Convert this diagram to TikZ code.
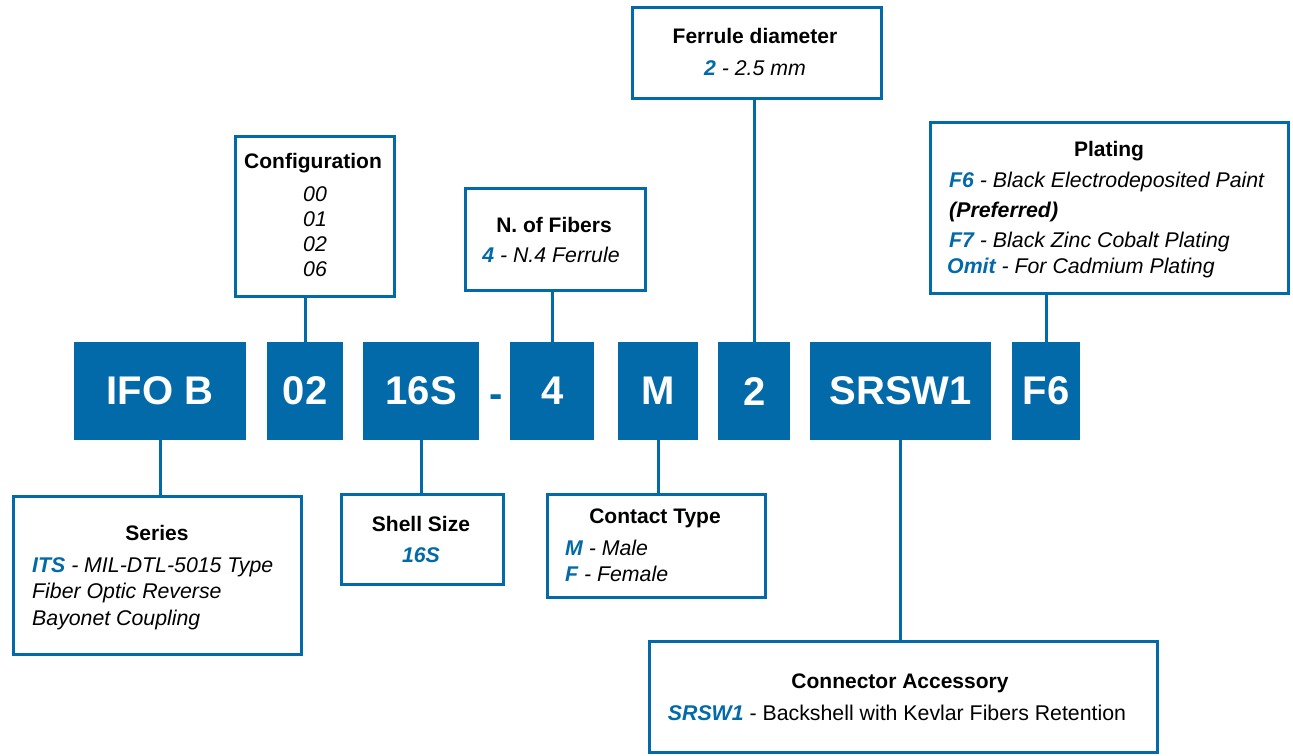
\documentclass[tikz,border=0pt]{standalone}
\usepackage{fontspec}
\setmainfont{Liberation Sans}
\definecolor{brand}{RGB}{3,106,170}
\newcommand\codetxt[1]{\textcolor{brand}{\bfseries\itshape #1}}
\begin{document}
\begin{tikzpicture}[x=1pt,y=-1pt,
  code/.style={fill=brand,text=white,font=\fontsize{40}{48}\selectfont\bfseries,inner sep=0,anchor=north west,minimum height=98},
  lbl/.style={draw=brand,line width=3pt,fill=white,inner sep=0,anchor=north west},
  conn/.style={draw=brand,line width=3pt},
  head/.style={font=\fontsize{21}{25}\selectfont\bfseries,anchor=base,inner sep=0},
  body/.style={font=\fontsize{21.3}{25}\selectfont\itshape,anchor=base west,inner sep=0},
  bodyc/.style={body,anchor=base}]
\useasboundingbox (0,0) rectangle (1293,755);

% code boxes
\node[code,minimum width=172] (cIFO) at (74,342) {IFO B};
\node[code,minimum width=76] (c02) at (267,342) {02};
\node[code,minimum width=116] (c16) at (363,342) {16S};
\node[font=\fontsize{40}{48}\selectfont\bfseries,text=brand,anchor=base,inner sep=0] (dash) at (496,407) {-};
\node[code,minimum width=84] (c4) at (510,342) {4};
\node[code,minimum width=80] (cM) at (618,342) {M};
\node[code,minimum width=72] (c2) at (718,342) {2};
\node[code,minimum width=181] (cSR) at (810,342) {SRSW1};
\node[code,minimum width=68] (cF6) at (1012,342) {F6};

% label boxes
\node[lbl,minimum width=249,minimum height=91] (fer) at (631,6) {};
\node[lbl,minimum width=159,minimum height=160] (cfg) at (234,135) {};
\node[lbl,minimum width=180,minimum height=102] (fib) at (464,187) {};
\node[lbl,minimum width=358,minimum height=171] (plt) at (929,121) {};
\node[lbl,minimum width=288,minimum height=158] (ser) at (12,495) {};
\node[lbl,minimum width=162,minimum height=90] (shl) at (340,493) {};
\node[lbl,minimum width=218,minimum height=103] (con) at (546,493) {};
\node[lbl,minimum width=508,minimum height=111] (acc) at (648,640) {};

% connectors
\draw[conn] (c02.north) -- (c02.north |- cfg.south);
\draw[conn] (c4.north) -- (c4.north |- fib.south);
\draw[conn] (c2.north) -- (c2.north |- fer.south);
\draw[conn] (cF6.north) -- (cF6.north |- plt.south);
\draw[conn] (cIFO.south) -- (cIFO.south |- ser.north);
\draw[conn] (c16.south) -- (c16.south |- shl.north);
\draw[conn] (cM.south) -- (cM.south |- con.north);
\draw[conn] (cSR.south) -- (cSR.south |- acc.north);

% texts
\node[head] (ferh) at (755,43) {Ferrule diameter};
\node[bodyc] (fert) at (755,75) {\codetxt{2} - 2.5 mm};

\node[head] (cfgh) at (313,168) {Configuration};
\node[bodyc] (cfg1) at (315,201) {00};
\node[bodyc] (cfg2) at (315,226) {01};
\node[bodyc] (cfg3) at (315,251) {02};
\node[bodyc] (cfg4) at (315,276) {06};

\node[head] (fibh) at (554,232) {N. of Fibers};
\node[bodyc] (fibt) at (551,262) {\codetxt{4} - N.4 Ferrule};

\node[head] (plth) at (1109,156) {Plating};
\node[body] (plt1) at (949,187) {\codetxt{F6} - Black Electrodeposited Paint};
\node[body] (plt2) at (949,217) {\bfseries (Preferred)};
\node[body] (plt3) at (949,247) {\codetxt{F7} - Black Zinc Cobalt Plating};
\node[body] (plt4) at (947,273) {\codetxt{Omit} - For Cadmium Plating};

\node[head] (serh) at (157,540) {Series};
\node[body] (ser1) at (32,572) {\codetxt{ITS} - MIL-DTL-5015 Type};
\node[body] (ser2) at (32,598) {Fiber Optic Reverse};
\node[body] (ser3) at (32,625) {Bayonet Coupling};

\node[head] (shlh) at (421,531) {Shell Size};
\node[bodyc] (shlt) at (421,562) {\codetxt{16S}};

\node[head] (conh) at (655,523) {Contact Type};
\node[body] (con1) at (565,555) {\codetxt{M} - Male};
\node[body] (con2) at (565,581) {\codetxt{F} - Female};

\node[head] (acch) at (900,688) {Connector Accessory};
\node[bodyc,font=\fontsize{21.3}{25}\selectfont] (acct) at (897,720) {\codetxt{SRSW1} - Backshell with Kevlar Fibers Retention};
\end{tikzpicture}
\end{document}
